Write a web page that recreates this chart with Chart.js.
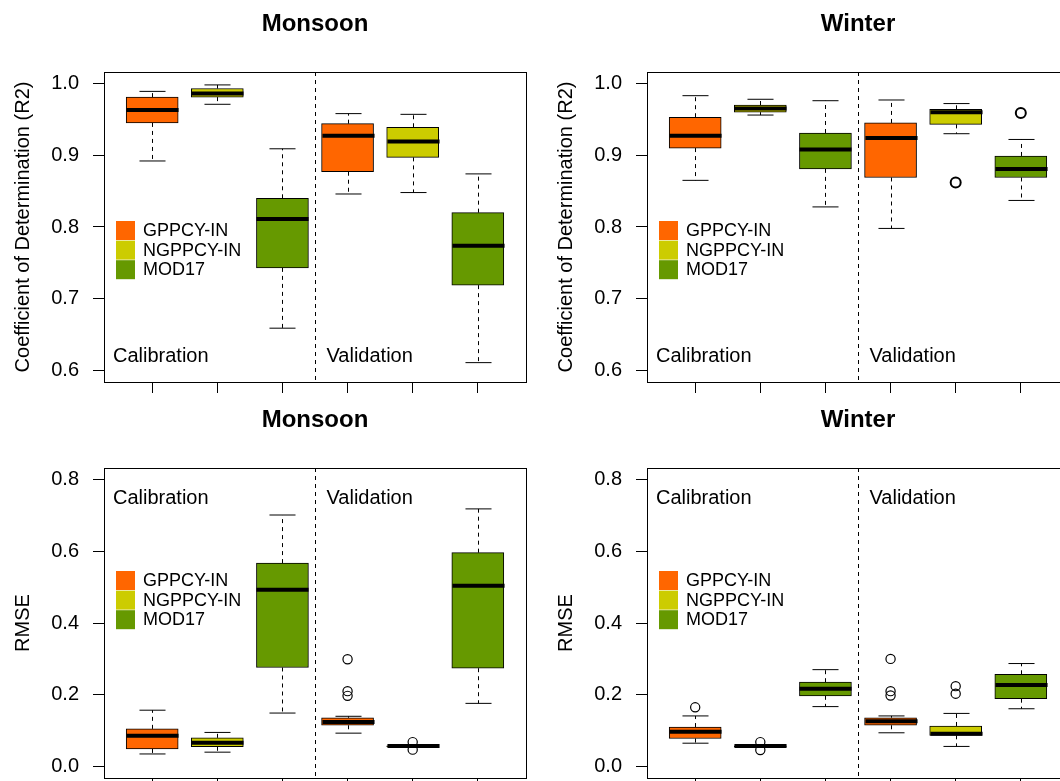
<!DOCTYPE html>
<html>
<head>
<meta charset="utf-8">
<script src="https://cdn.jsdelivr.net/npm/chart.js@4.4.1/dist/chart.umd.min.js"></script>
<style>
  html, body { margin: 0; padding: 0; background: #fff; overflow: hidden; width: 1060px; height: 781px; }
  canvas { position: absolute; }
</style>
</head>
<body>
<canvas id="monsoonR2Chart" width="543" height="396" style="left:0;top:0"></canvas>
<canvas id="winterR2Chart" width="543" height="396" style="left:543px;top:0"></canvas>
<canvas id="monsoonRmseChart" width="543" height="396" style="left:0;top:396px"></canvas>
<canvas id="winterRmseChart" width="543" height="396" style="left:543px;top:396px"></canvas>
<script>
const models = ["GPPCY-IN", "NGPPCY-IN", "MOD17"];
const modelColors = ["#ff6600", "#cccc00", "#669900"];
const positions = [1, 2, 3, 4, 5, 6];
const stageLabels = ["Calibration", "Validation"];
const r2Ticks = [0.6, 0.7, 0.8, 0.9, 1.0];
const rmseTicks = [0.0, 0.2, 0.4, 0.6, 0.8];

// each box: [lower whisker, Q1, median, Q3, upper whisker]
// order: calibration GPPCY, NGPPCY, MOD17, then validation GPPCY, NGPPCY, MOD17
const monsoonR2 = [
  [0.892, 0.945, 0.963, 0.981, 0.989],
  [0.971, 0.981, 0.986, 0.993, 0.998],
  [0.659, 0.743, 0.811, 0.840, 0.909],
  [0.846, 0.877, 0.927, 0.944, 0.958],
  [0.848, 0.897, 0.919, 0.939, 0.957],
  [0.611, 0.719, 0.774, 0.820, 0.874]
];
const monsoonR2Outliers = [];

const winterR2 = [
  [0.865, 0.910, 0.927, 0.953, 0.983],
  [0.956, 0.960, 0.965, 0.970, 0.978],
  [0.828, 0.881, 0.908, 0.931, 0.976],
  [0.798, 0.869, 0.924, 0.945, 0.977],
  [0.930, 0.943, 0.960, 0.964, 0.972],
  [0.837, 0.869, 0.881, 0.899, 0.922]
];
const winterR2Outliers = [[5, 0.862], [6, 0.959]];

const monsoonRmse = [
  [0.035, 0.049, 0.086, 0.105, 0.157],
  [0.040, 0.055, 0.066, 0.080, 0.095],
  [0.149, 0.276, 0.493, 0.567, 0.701],
  [0.093, 0.115, 0.124, 0.136, 0.140],
  [0.054, 0.055, 0.057, 0.058, 0.060],
  [0.176, 0.274, 0.504, 0.596, 0.718]
];
const monsoonRmseOutliers = [[4, 0.299], [4, 0.210], [4, 0.197], [5, 0.068], [5, 0.047]];

const winterRmse = [
  [0.065, 0.078, 0.097, 0.110, 0.141],
  [0.054, 0.055, 0.057, 0.058, 0.059],
  [0.167, 0.197, 0.217, 0.235, 0.270],
  [0.094, 0.115, 0.126, 0.136, 0.141],
  [0.056, 0.087, 0.091, 0.113, 0.148],
  [0.161, 0.189, 0.227, 0.257, 0.287]
];
const winterRmseOutliers = [[1, 0.165], [2, 0.068], [2, 0.046], [4, 0.300], [4, 0.210], [4, 0.198], [5, 0.224], [5, 0.203]];

const FONT = "'Liberation Sans', Arial, Helvetica, sans-serif";
Chart.defaults.font.family = FONT;
Chart.defaults.color = "#000";

// whiskers, medians, frame, separator, stage labels and legend
const boxplotExtras = {
  id: "boxplotExtras",
  afterDatasetsDraw(chart, args, opts) {
    const { ctx, chartArea: a, scales: { x, y } } = chart;
    const unit = x.getPixelForValue(2) - x.getPixelForValue(1);
    const halfBox = unit * 0.4;
    const halfCap = unit * 0.2;
    ctx.save();
    ctx.strokeStyle = "#000";
    opts.stats.forEach((s, i) => {
      const px = Math.round(x.getPixelForValue(positions[i])) + 0.5;
      const [lo, q1, med, q3, hi] = s.map((v) => y.getPixelForValue(v));
      ctx.lineWidth = 1;
      ctx.setLineDash([4, 4]);
      ctx.beginPath();
      ctx.moveTo(px, q3); ctx.lineTo(px, hi);
      ctx.moveTo(px, q1); ctx.lineTo(px, lo);
      ctx.stroke();
      ctx.setLineDash([]);
      ctx.beginPath();
      ctx.moveTo(px - halfCap, hi); ctx.lineTo(px + halfCap, hi);
      ctx.moveTo(px - halfCap, lo); ctx.lineTo(px + halfCap, lo);
      ctx.stroke();
      ctx.lineWidth = 4;
      ctx.beginPath();
      ctx.moveTo(px - halfBox, med); ctx.lineTo(px + halfBox, med);
      ctx.stroke();
    });

    // calibration / validation divider
    const sepX = Math.round(x.getPixelForValue(3.5)) + 0.5;
    ctx.lineWidth = 1;
    ctx.setLineDash([4, 4]);
    ctx.beginPath();
    ctx.moveTo(sepX, a.top); ctx.lineTo(sepX, a.bottom);
    ctx.stroke();
    ctx.setLineDash([]);

    // frame
    ctx.strokeRect(a.left + 0.5, a.top + 0.5, a.right - a.left, a.bottom - a.top);

    ctx.fillStyle = "#000";
    ctx.font = "20px " + FONT;
    ctx.textBaseline = "middle";
    ctx.textAlign = "left";
    const ly = opts.labelsOnTop ? a.top + 30 : a.bottom - 26;
    ctx.fillText(stageLabels[0], a.left + 9, ly);
    ctx.fillText(stageLabels[1], sepX + 11, ly);

    // legend
    const lx = a.left + 12;
    const ly0 = a.top + opts.legendOffset;
    ctx.font = "18px " + FONT;
    models.forEach((m, k) => {
      const top = ly0 + k * 19.6;
      ctx.fillStyle = modelColors[k];
      ctx.fillRect(lx, top, 19, 19);
      ctx.fillStyle = "#000";
      ctx.fillText(m, lx + 27, top + 10);
    });
    ctx.restore();
  }
};

function makeBoxChart(id, title, yTitle, stats, outliers, ticks, topRow) {
  const span = ticks[ticks.length - 1] - ticks[0];
  const datasets = models.map((m, k) => ({
    type: "bar",
    label: m,
    data: [k, k + 3].map((i) => ({ x: positions[i], y: [stats[i][1], stats[i][3]] })),
    backgroundColor: modelColors[k],
    borderColor: "#000",
    borderWidth: 1,
    borderSkipped: false,
    barThickness: 52,
    grouped: false
  }));
  datasets.push({
    type: "scatter",
    label: "outliers",
    data: outliers.map(([p, v]) => ({ x: p, y: v })),
    pointStyle: "circle",
    pointRadius: topRow ? 5 : 4.6,
    pointBackgroundColor: "rgba(0,0,0,0)",
    pointBorderColor: "#000",
    pointBorderWidth: topRow ? 2 : 1.2
  });

  return new Chart(document.getElementById(id), {
    type: "bar",
    data: { datasets },
    options: {
      responsive: false,
      animation: false,
      events: [],
      layout: { autoPadding: false, padding: { left: 0, top: 0, right: 17, bottom: 0 } },
      plugins: {
        legend: { display: false },
        tooltip: { enabled: false },
        title: {
          display: true,
          text: title,
          fullSize: false,
          color: "#000",
          font: { size: 24, weight: "bold" },
          padding: { top: 9.6, bottom: 33.6 }
        },
        boxplotExtras: { stats, legendOffset: topRow ? 149 : 103, labelsOnTop: !topRow }
      },
      scales: {
        x: {
          type: "linear",
          min: 0.5 - 0.04 * 6,
          max: 6.5 + 0.04 * 6,
          offset: false,
          border: { display: false },
          grid: { offset: false, drawOnChartArea: false, drawTicks: true, tickLength: 11, tickColor: "#000", lineWidth: 1 },
          ticks: { autoSkip: false, callback: () => "" },
          afterBuildTicks: (s) => { s.ticks = positions.map((v) => ({ value: v })); },
          afterFit: (s) => { s.height = 14; s.paddingLeft = 0; s.paddingRight = 0; }
        },
        y: {
          type: "linear",
          min: ticks[0] - 0.04 * span,
          max: ticks[ticks.length - 1] + 0.04 * span,
          beginAtZero: false,
          border: { display: false },
          grid: { drawOnChartArea: false, drawTicks: true, tickLength: 11, tickColor: "#000", lineWidth: 1 },
          ticks: { padding: 14, color: "#000", font: { size: 20 }, callback: (v) => Number(v).toFixed(1) },
          afterBuildTicks: (s) => { s.ticks = ticks.map((v) => ({ value: v })); },
          afterFit: (s) => { s.width = 104; s.paddingTop = 0; s.paddingBottom = 0; },
          title: { display: true, text: yTitle, color: "#000", font: { size: 20 }, padding: { top: 11, bottom: 0 } }
        }
      }
    },
    plugins: [boxplotExtras]
  });
}

makeBoxChart("monsoonR2Chart", "Monsoon", "Coefficient of Determination (R2)", monsoonR2, monsoonR2Outliers, r2Ticks, true);
makeBoxChart("winterR2Chart", "Winter", "Coefficient of Determination (R2)", winterR2, winterR2Outliers, r2Ticks, true);
makeBoxChart("monsoonRmseChart", "Monsoon", "RMSE", monsoonRmse, monsoonRmseOutliers, rmseTicks, false);
makeBoxChart("winterRmseChart", "Winter", "RMSE", winterRmse, winterRmseOutliers, rmseTicks, false);
</script>
</body>
</html>
